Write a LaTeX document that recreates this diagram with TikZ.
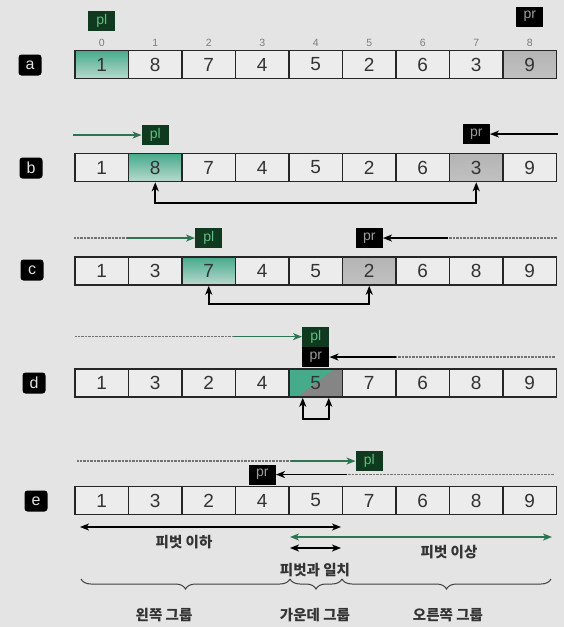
\documentclass[tikz,border=0pt]{standalone}
\usepackage{fontspec}
\setmainfont{Liberation Sans}
\newfontfamily\krfont{Noto Sans CJK KR}
\usetikzlibrary{arrows.meta,calc,positioning,decorations.pathreplacing}
\definecolor{bgray}{HTML}{E4E4E4}
\definecolor{cellbg}{HTML}{ECECEC}
\definecolor{plgreen}{HTML}{2B7550}
\definecolor{pldark}{HTML}{0F3A20}
\definecolor{pltext}{HTML}{5FBF80}
\definecolor{hlteal}{HTML}{45AB8A}
\definecolor{hlgrey}{HTML}{707070}
\definecolor{prtext}{HTML}{9C9C9C}
\definecolor{idxgrey}{HTML}{7C7C7C}

\tikzset{
  cell/.style={draw=black!85, line width=1.5pt, fill=cellbg, minimum width=53.5pt,
    minimum height=28pt, inner sep=0pt, text=black!80, font=\fontsize{19}{19}\selectfont},
  nohl/.style={},
  tealcell/.style={top color=hlteal, middle color=hlteal!90, bottom color=hlteal!30!cellbg},
  greycell/.style={top color=hlgrey!45!cellbg, middle color=hlgrey!85!black, bottom color=hlgrey!35!cellbg},
  splitcell/.style={path picture={
      \fill[hlgrey!85] (path picture bounding box.south west) rectangle (path picture bounding box.north east);
      \fill[hlteal] (path picture bounding box.north west)
        -- ($(path picture bounding box.north west)!0.85!(path picture bounding box.north east)$)
        -- ($(path picture bounding box.south west)!0.15!(path picture bounding box.south east)$)
        -- (path picture bounding box.south west) -- cycle;}},
  rowlabel/.style={fill=black, rounded corners=3pt, text=black!12, minimum width=23pt,
    minimum height=21pt, inner sep=0pt, font=\fontsize{16}{16}\selectfont},
  ptr/.style={minimum width=27pt, minimum height=20pt, inner sep=0pt, font=\fontsize{14}{14}\selectfont},
  plbox/.style={ptr, fill=pldark, text=pltext},
  prbox/.style={ptr, fill=black, text=prtext},
  idx/.style={inner sep=0pt, text=idxgrey, font=\fontsize{10.5}{10.5}\selectfont},
  tip/.tip={Stealth[length=9pt,width=7pt,inset=2.5pt]},
  mv/.style={line width=1.4pt, -tip},
  dotline/.style={black!55, line width=1.3pt, dash pattern=on 0.7pt off 0.7pt},
  swaparrow/.style={line width=1.6pt, tip-tip},
  dblarrow/.style={line width=1.4pt, tip-tip},
  krtext/.style={inner sep=0pt, text=black!80, font=\krfont\bfseries\fontsize{14.5}{14.5}\selectfont},
  grpbrace/.style={black!75, line width=1pt, decorate, decoration={brace, mirror, amplitude=10pt}}
}

\begin{document}
\begin{tikzpicture}[x=1pt,y=-1pt]
  \useasboundingbox (0,0) rectangle (564,627);
  \fill[bgray] (0,0) rectangle (564,627);

  % Row a
  \node[rowlabel] (la) at (30,65) {a};
  \foreach \v/\st [count=\i from 0] in {1/tealcell,8/nohl,7/nohl,4/nohl,5/nohl,2/nohl,6/nohl,3/nohl,9/greycell}
    \node[cell,\st] (a\i) at ({75+53.5*(\i+0.5)},64.5) {\v};
  \foreach \i in {0,...,8}
    \node[idx, above=3pt of a\i] {\i};
  \node[plbox, above=19pt of a0] (apl) {pl};
  \node[prbox, above=23pt of a8] (apr) {pr};

  % Row b
  \node[rowlabel] (lb) at (31,168) {b};
  \foreach \v/\st [count=\i from 0] in {1/nohl,8/tealcell,7/nohl,4/nohl,5/nohl,2/nohl,6/nohl,3/greycell,9/nohl}
    \node[cell,\st] (b\i) at ({75+53.5*(\i+0.5)},167.5) {\v};
  \node[plbox, above=7.5pt of b1] (bpl) {pl};
  \node[prbox, above=8.5pt of b7] (bpr) {pr};
  \coordinate (bL) at (73,0 |- bpl);
  \coordinate (bR) at (558,0 |- bpr);
  \draw[mv, plgreen] (bL) -- (bpl);
  \draw[mv] (bR) -- (bpr);
  \draw[swaparrow] (b1.south) -- ++(0,20.5) -| (b7.south);

  % Row c
  \node[rowlabel] (lc) at (32,270) {c};
  \foreach \v/\st [count=\i from 0] in {1/nohl,3/nohl,7/tealcell,4/nohl,5/nohl,2/greycell,6/nohl,8/nohl,9/nohl}
    \node[cell,\st] (c\i) at ({75+53.5*(\i+0.5)},271) {\v};
  \node[plbox, above=8pt of c2] (cpl) {pl};
  \node[prbox, above=8pt of c5] (cpr) {pr};
  \coordinate (cL) at (74,0 |- cpl);
  \coordinate (cLm) at (127,0 |- cpl);
  \coordinate (cRm) at (448,0 |- cpr);
  \coordinate (cR) at (557,0 |- cpr);
  \draw[dotline] (cL) -- (cLm);
  \draw[mv, plgreen] (cLm) -- (cpl);
  \draw[dotline] (cR) -- (cRm);
  \draw[mv] (cRm) -- (cpr);
  \draw[swaparrow] (c2.south) -- ++(0,18) -| (c5.south);

  % Row d
  \node[rowlabel] (ld) at (34,383) {d};
  \foreach \v/\st [count=\i from 0] in {1/nohl,3/nohl,2/nohl,4/nohl,5/splitcell,7/nohl,6/nohl,8/nohl,9/nohl}
    \node[cell,\st] (d\i) at ({75+53.5*(\i+0.5)},383) {\v};
  \node[prbox, above=1pt of d4] (dpr) {pr};
  \node[plbox, above=0pt of dpr] (dpl) {pl};
  \coordinate (dL) at (75,0 |- dpl);
  \coordinate (dLm) at (234,0 |- dpl);
  \coordinate (dRm) at (396,0 |- dpr);
  \coordinate (dR) at (555,0 |- dpr);
  \draw[dotline] (dL) -- (dLm);
  \draw[mv, plgreen] (dLm) -- (dpl);
  \draw[dotline] (dR) -- (dRm);
  \draw[mv] (dRm) -- (dpr);
  \draw[swaparrow] ([xshift=-13pt]d4.south) -- ++(0,21) -| ([xshift=13pt]d4.south);

  % Row e
  \node[rowlabel] (le) at (36,501) {e};
  \foreach \v [count=\i from 0] in {1,3,2,4,5,7,6,8,9}
    \node[cell] (e\i) at ({75+53.5*(\i+0.5)},500.5) {\v};
  \node[plbox, above=14.5pt of e5] (epl) {pl};
  \node[prbox, above=1pt of e3] (epr) {pr};
  \coordinate (eL) at (77,0 |- epl);
  \coordinate (eLm) at (291,0 |- epl);
  \coordinate (eRm) at (347,0 |- epr);
  \coordinate (eR) at (554,0 |- epr);
  \draw[dotline] (eL) -- (eLm);
  \draw[mv, plgreen] (eLm) -- (epl);
  \draw[dotline] (eR) -- (eRm);
  \draw[mv] (eRm) -- (epr);

  % Result ranges
  \coordinate (lowL) at (80,527);
  \coordinate (lowR) at (341,527);
  \coordinate (highL) at (290,537);
  \coordinate (highR) at (552,537);
  \coordinate (eqL) at (290,548);
  \coordinate (eqR) at (341,548);
  \draw[dblarrow] (lowL) -- (lowR);
  \draw[dblarrow, plgreen] (highL) -- (highR);
  \draw[dblarrow] (eqL) -- (eqR);
  \node[krtext] (low) at (184,542) {피벗 이하};
  \node[krtext] (high) at (449,552) {피벗 이상};
  \node[krtext] (same) at (315,570) {피벗과 일치};

  % Groups
  \draw[grpbrace] (81,579) -- (290,579);
  \draw[grpbrace] (290,579) -- (342,579);
  \draw[grpbrace] (342,579) -- (551,579);
  \node[krtext] (gl) at (164,615) {왼쪽 그룹};
  \node[krtext] (gm) at (315,615) {가운데 그룹};
  \node[krtext] (gr) at (448,615) {오른쪽 그룹};
\end{tikzpicture}
\end{document}
